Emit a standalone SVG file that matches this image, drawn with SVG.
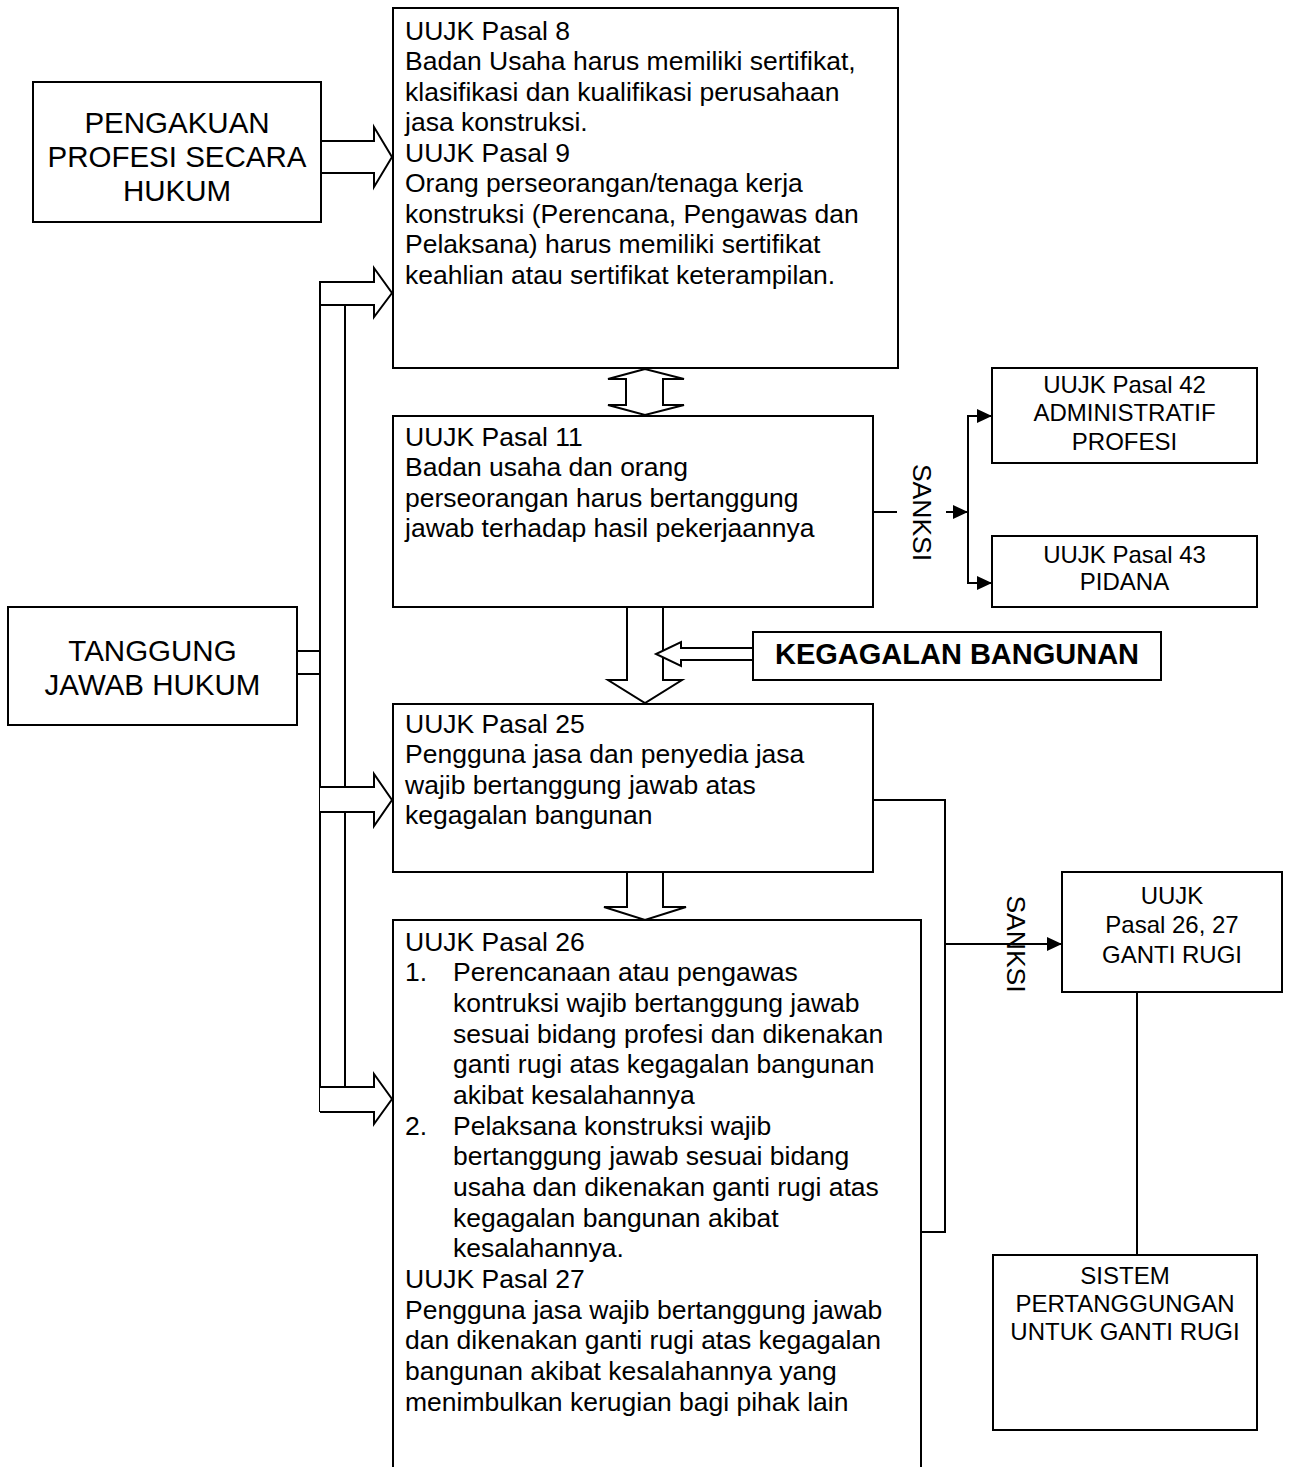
<svg xmlns="http://www.w3.org/2000/svg" width="1289" height="1467" viewBox="0 0 1289 1467">
<style>
.box{fill:#fff;stroke:#000;stroke-width:2}
.ln{fill:none;stroke:#000;stroke-width:2}
.blk{fill:#fff;stroke:#000;stroke-width:2;stroke-linejoin:miter}
text{font-family:"Liberation Sans",Arial,sans-serif;fill:#000}
.b{font-size:26.5px}
.s{font-size:24px;text-anchor:middle}
.l{font-size:29.5px;text-anchor:middle}
.k{font-size:29px;font-weight:bold;text-anchor:middle}
.r{font-size:26.5px;text-anchor:middle}
</style>
<defs>
<marker id="ah" markerWidth="15" markerHeight="14" refX="15" refY="7" orient="auto" markerUnits="userSpaceOnUse"><path d="M0,0 L15,7 L0,14 z" fill="#000"/></marker>
</defs>
<rect width="1289" height="1467" fill="#fff"/>
<g id="connectors">
<polygon class="blk" points="321,141 374,141 374,127 392,157 374,187 374,173 321,173"/>
<polygon class="blk" points="320,282 374,282 374,268 392,293 374,317 374,305 320,305"/>
<line class="ln" x1="320" y1="282" x2="320" y2="1112"/>
<line class="ln" x1="345" y1="305" x2="345" y2="787"/>
<line class="ln" x1="345" y1="812" x2="345" y2="1087"/>
<polyline class="blk" points="320,787 374,787 374,774 392,800 374,826 374,812 320,812"/>
<polyline class="blk" points="320,1087 374,1087 374,1074 392,1099 374,1124 374,1112 320,1112"/>
<line class="ln" x1="297" y1="651" x2="320" y2="651"/>
<line class="ln" x1="297" y1="674" x2="320" y2="674"/>
<polygon class="blk" points="645,369 608,379 626,379 626,405 608,405 645,415 684,405 663,405 663,379 684,379"/>
<polygon class="blk" points="627,607 627,680 608,680 645,703 682,680 663,680 663,607"/>
<polygon class="blk" points="753,648 681,648 681,642 656,654 681,666 681,660 753,660"/>
<polygon class="blk" points="627,872 627,907 604,907 645,920 686,907 663,907 663,872"/>
<line class="ln" x1="873" y1="512" x2="897" y2="512"/>
<line class="ln" x1="946" y1="512" x2="968" y2="512" marker-end="url(#ah)"/>
<line class="ln" x1="968" y1="416" x2="968" y2="583"/>
<line class="ln" x1="967" y1="416" x2="992" y2="416" marker-end="url(#ah)"/>
<line class="ln" x1="967" y1="583" x2="992" y2="583" marker-end="url(#ah)"/>
<polyline class="ln" points="873,800 945,800 945,1232 909,1232"/>
<line class="ln" x1="945" y1="944" x2="1062" y2="944" marker-end="url(#ah)"/>
<line class="ln" x1="1137" y1="992" x2="1137" y2="1255"/>
<text class="r" transform="translate(913,512.5) rotate(90)">SANKSI</text>
<text class="r" transform="translate(1007,944) rotate(90)">SANKSI</text>
</g>
<g id="pengakuan">
<rect class="box" x="33" y="82" width="288" height="140"/>
<text class="l" x="177" y="132.5">PENGAKUAN</text>
<text class="l" x="177" y="167">PROFESI SECARA</text>
<text class="l" x="177" y="200.5">HUKUM</text>
</g>
<g id="tanggung">
<rect class="box" x="8" y="607" width="289" height="118"/>
<text class="l" x="152.5" y="660.5">TANGGUNG</text>
<text class="l" x="152.5" y="694.5">JAWAB HUKUM</text>
</g>
<g id="pasal8-9">
<rect class="box" x="393" y="8" width="505" height="360"/>
<text class="b" x="405" y="39.5">UUJK Pasal 8</text>
<text class="b" x="405" y="70">Badan Usaha harus memiliki sertifikat,</text>
<text class="b" x="405" y="100.5">klasifikasi dan kualifikasi perusahaan</text>
<text class="b" x="405" y="131">jasa konstruksi.</text>
<text class="b" x="405" y="161.5">UUJK Pasal 9</text>
<text class="b" x="405" y="192">Orang perseorangan/tenaga kerja</text>
<text class="b" x="405" y="222.5">konstruksi (Perencana, Pengawas dan</text>
<text class="b" x="405" y="253">Pelaksana) harus memiliki sertifikat</text>
<text class="b" x="405" y="283.5">keahlian atau sertifikat keterampilan.</text>
</g>
<g id="pasal11">
<rect class="box" x="393" y="416" width="480" height="191"/>
<text class="b" x="405" y="445.5">UUJK Pasal 11</text>
<text class="b" x="405" y="476">Badan usaha dan orang</text>
<text class="b" x="405" y="506.5">perseorangan harus bertanggung</text>
<text class="b" x="405" y="537">jawab terhadap hasil pekerjaannya</text>
</g>
<g id="pasal42">
<rect class="box" x="992" y="368" width="265" height="95"/>
<text class="s" x="1124.5" y="392.5">UUJK Pasal 42</text>
<text class="s" x="1124.5" y="421">ADMINISTRATIF</text>
<text class="s" x="1124.5" y="449.5">PROFESI</text>
</g>
<g id="pasal43">
<rect class="box" x="992" y="536" width="265" height="71"/>
<text class="s" x="1124.5" y="562.5">UUJK Pasal 43</text>
<text class="s" x="1124.5" y="589.5">PIDANA</text>
</g>
<g id="kegagalan">
<rect class="box" x="753" y="632" width="408" height="48"/>
<text class="k" x="957" y="663.5">KEGAGALAN BANGUNAN</text>
</g>
<g id="pasal25">
<rect class="box" x="393" y="704" width="480" height="168"/>
<text class="b" x="405" y="732.5">UUJK Pasal 25</text>
<text class="b" x="405" y="763">Pengguna jasa dan penyedia jasa</text>
<text class="b" x="405" y="793.5">wajib bertanggung jawab atas</text>
<text class="b" x="405" y="824">kegagalan bangunan</text>
</g>
<g id="pasal26-27">
<rect class="box" x="393" y="920" width="528" height="560"/>
<text class="b" x="405" y="950.5">UUJK Pasal 26</text>
<text class="b" x="405" y="981.2">1.</text>
<text class="b" x="453" y="981.2">Perencanaan atau pengawas</text>
<text class="b" x="453" y="1011.8">kontruksi wajib bertanggung jawab</text>
<text class="b" x="453" y="1042.5">sesuai bidang profesi dan dikenakan</text>
<text class="b" x="453" y="1073.2">ganti rugi atas kegagalan bangunan</text>
<text class="b" x="453" y="1103.8">akibat kesalahannya</text>
<text class="b" x="405" y="1134.5">2.</text>
<text class="b" x="453" y="1134.5">Pelaksana konstruksi wajib</text>
<text class="b" x="453" y="1165.2">bertanggung jawab sesuai bidang</text>
<text class="b" x="453" y="1195.8">usaha dan dikenakan ganti rugi atas</text>
<text class="b" x="453" y="1226.5">kegagalan bangunan akibat</text>
<text class="b" x="453" y="1257.2">kesalahannya.</text>
<text class="b" x="405" y="1287.8">UUJK Pasal 27</text>
<text class="b" x="405" y="1318.5">Pengguna jasa wajib bertanggung jawab</text>
<text class="b" x="405" y="1349.2">dan dikenakan ganti rugi atas kegagalan</text>
<text class="b" x="405" y="1379.8">bangunan akibat kesalahannya yang</text>
<text class="b" x="405" y="1410.5">menimbulkan kerugian bagi pihak lain</text>
</g>
<g id="gantirugi">
<rect class="box" x="1062" y="872" width="220" height="120"/>
<text class="s" x="1172" y="903.5">UUJK</text>
<text class="s" x="1172" y="933">Pasal 26, 27</text>
<text class="s" x="1172" y="962.5">GANTI RUGI</text>
</g>
<g id="sistem">
<rect class="box" x="993" y="1255" width="264" height="175"/>
<text class="s" x="1125" y="1283.5">SISTEM</text>
<text class="s" x="1125" y="1311.5">PERTANGGUNGAN</text>
<text class="s" x="1125" y="1339.5">UNTUK GANTI RUGI</text>
</g>
</svg>
